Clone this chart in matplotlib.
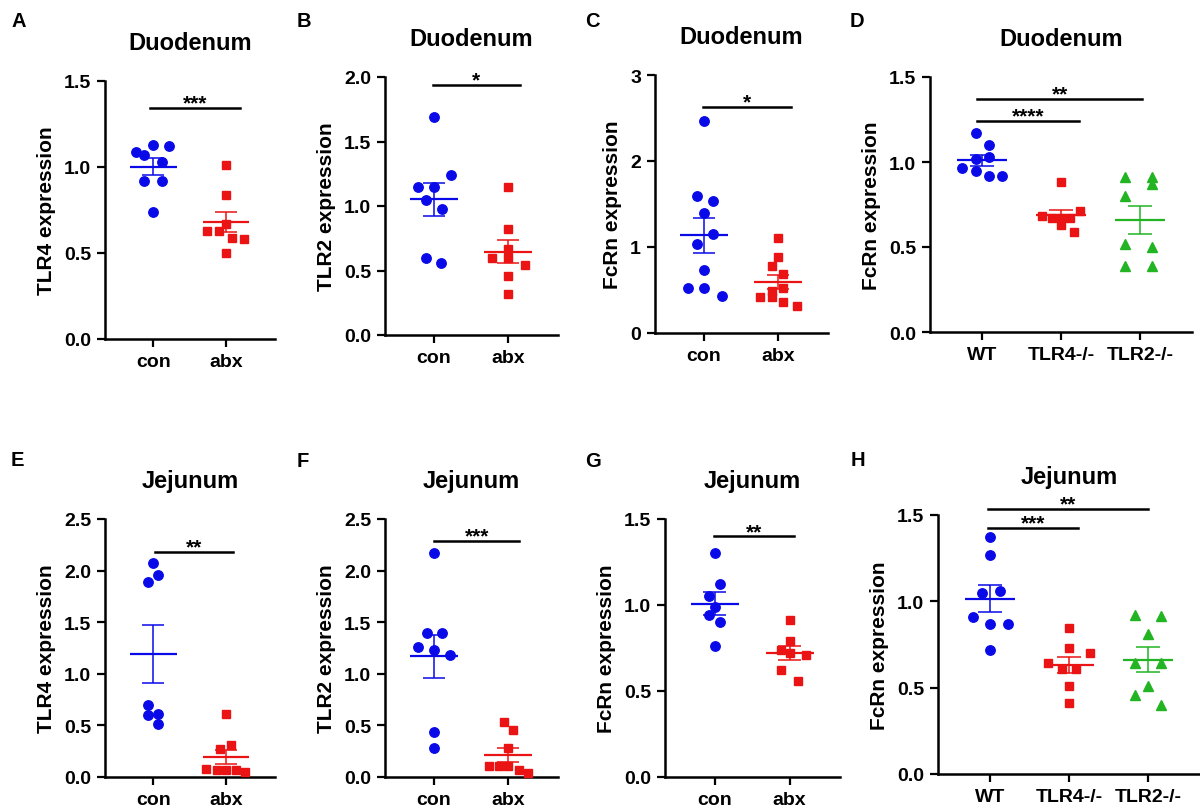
import matplotlib.pyplot as plt
import numpy as np

plt.rcParams['font.family'] = ['Liberation Sans', 'DejaVu Sans']
plt.rcParams['font.weight'] = 'bold'
plt.rcParams['axes.labelweight'] = 'bold'
plt.rcParams['axes.titleweight'] = 'bold'

# groups
two_groups = ['con', 'abx']
three_groups = ['WT', 'TLR4-/-', 'TLR2-/-']

# values
A_con = [1.09, 1.07, 1.13, 1.12, 1.03, 0.92, 0.92, 0.74]
A_abx = [1.01, 0.84, 0.67, 0.63, 0.63, 0.59, 0.58, 0.50]
B_con = [1.69, 1.24, 1.15, 1.15, 1.05, 0.98, 0.60, 0.56]
B_abx = [1.15, 0.82, 0.67, 0.60, 0.60, 0.54, 0.46, 0.32]
C_con = [2.47, 1.59, 1.53, 1.39, 1.15, 1.04, 0.73, 0.52, 0.52, 0.43]
C_abx = [1.10, 0.88, 0.78, 0.69, 0.52, 0.49, 0.42, 0.42, 0.36, 0.31]
D_wt = [1.17, 1.10, 1.03, 1.02, 0.965, 0.95, 0.92, 0.92]
D_tlr4 = [0.88, 0.71, 0.68, 0.67, 0.67, 0.67, 0.63, 0.59]
D_tlr2 = [0.91, 0.91, 0.87, 0.80, 0.52, 0.50, 0.39, 0.39]
E_con = [2.07, 1.96, 1.89, 0.70, 0.60, 0.61, 0.51]
E_abx = [0.61, 0.27, 0.31, 0.08, 0.07, 0.07, 0.07, 0.05]
F_con = [2.17, 1.40, 1.40, 1.26, 1.23, 1.18, 0.44, 0.28]
F_abx = [0.53, 0.46, 0.28, 0.11, 0.11, 0.11, 0.07, 0.04]
G_con = [1.30, 1.12, 1.05, 0.99, 0.94, 0.90, 0.76]
G_abx = [0.91, 0.79, 0.74, 0.72, 0.71, 0.62, 0.56]
H_wt = [1.37, 1.27, 1.05, 1.06, 0.91, 0.87, 0.87, 0.72]
H_tlr4 = [0.845, 0.73, 0.70, 0.64, 0.61, 0.61, 0.51, 0.41]
H_tlr2 = [0.92, 0.915, 0.81, 0.645, 0.645, 0.51, 0.46, 0.40]

# horizontal scatter of the points (fraction of group spacing)
A_con_dx = [-0.24, -0.12, 0, 0.22, 0.12, -0.12, 0.12, 0]
A_abx_dx = [0, 0, 0, -0.26, -0.1, 0.08, 0.24, 0]
B_con_dx = [0, 0.23, -0.21, 0, -0.11, 0.11, -0.11, 0.1]
B_abx_dx = [0, 0, 0, -0.22, 0, 0.23, 0, 0]
C_con_dx = [0, -0.1, 0.12, 0, 0.12, -0.1, 0, -0.21, 0, 0.24]
C_abx_dx = [0, 0, -0.09, 0.07, 0.07, -0.08, -0.08, -0.24, 0.07, 0.25]
D_wt_dx = [-0.08, 0.09, 0.09, -0.08, -0.25, -0.08, 0.09, 0.25]
D_tlr4_dx = [0, 0.24, -0.24, -0.12, 0, 0.12, 0, 0.17]
D_tlr2_dx = [-0.19, 0.15, 0.15, -0.19, -0.19, 0.15, -0.19, 0.15]
E_con_dx = [0, 0.07, -0.07, -0.07, -0.07, 0.07, 0.07]
E_abx_dx = [0, -0.09, 0.07, -0.27, -0.13, 0, 0.13, 0.26]
F_con_dx = [0, -0.1, 0.11, -0.22, 0, 0.22, 0, 0]
F_abx_dx = [-0.06, 0.07, 0, -0.26, -0.13, 0, 0.14, 0.26]
G_con_dx = [0, 0.07, -0.07, 0, -0.08, 0.07, 0]
G_abx_dx = [0, 0, -0.11, 0, 0.22, -0.11, 0.11]
H_wt_dx = [0, 0, -0.105, 0.12, -0.22, 0, 0.23, 0]
H_tlr4_dx = [0, 0, 0.26, -0.26, -0.085, 0.085, 0, 0]
H_tlr2_dx = [-0.17, 0.17, 0, -0.17, 0.17, 0, -0.17, 0.17]

blue = '#0a0ae8'
red = '#ea1414'
green = '#22b422'

W, H = 1200, 812
fig = plt.figure(figsize=(12, 8.12), dpi=100)


def panel(rect, groups, values, dxs, colors, markers, yticks, ylabels, ylabel,
          title, letter, letter_xy, sigs):
    x0, ytop, x1, ybot = rect
    ax = fig.add_axes([x0 / W, 1 - ybot / H, (x1 - x0) / W, (ybot - ytop) / H])
    for i, (v, dx, c, m) in enumerate(zip(values, dxs, colors, markers)):
        v = np.array(v)
        xs = i + np.array(dx)
        ms = {'o': 6.8, 's': 6.0, '^': 7.0}[m]
        ax.plot(xs, v, ls='none', marker=m, ms=ms, color=c, mec=c, clip_on=False, zorder=3)
        mean = v.mean()
        sem = v.std(ddof=1) / np.sqrt(len(v))
        ax.hlines(mean, i - 0.32, i + 0.32, color=c, lw=1.6, zorder=4)
        ax.vlines(i, mean - sem, mean + sem, color=c, lw=1.1, zorder=4)
        ax.hlines([mean - sem, mean + sem], i - 0.15, i + 0.15, color=c, lw=1.1, zorder=4)
    for xa, xb, y, lab in sigs:
        ax.plot([xa, xb], [y, y], color='black', lw=1.8, clip_on=False)
        ax.annotate(lab, ((xa + xb) / 2, y), xytext=(0, -0.5), textcoords='offset points',
                    ha='center', va='baseline', fontsize=15, annotation_clip=False)
    n = len(groups)
    ax.set_xlim(-0.66, n - 0.34 if n == 3 else 1.67)
    ax.set_ylim(yticks[0], yticks[-1])
    ax.set_xticks(range(n))
    ax.set_xticklabels(groups, fontsize=14, fontweight='bold')
    ax.set_yticks(yticks)
    ax.set_yticklabels(ylabels, fontsize=14, fontweight='bold')
    ax.set_ylabel(ylabel, fontsize=15, fontweight='bold', labelpad=6)
    ax.set_title(title, fontsize=17, fontweight='bold', pad=23)
    for s in ['top', 'right']:
        ax.spines[s].set_visible(False)
    for s in ['left', 'bottom']:
        ax.spines[s].set_linewidth(1.8)
    ax.tick_params(length=6, width=1.6, pad=4)
    fig.text(letter_xy[0] / W, 1 - letter_xy[1] / H, letter, fontsize=14.5,
             fontweight='bold', ha='left', va='top')
    return ax


t15 = [0, 0.5, 1.0, 1.5]
t15l = ['0.0', '0.5', '1.0', '1.5']
t20 = [0, 0.5, 1.0, 1.5, 2.0]
t20l = ['0.0', '0.5', '1.0', '1.5', '2.0']
t25 = [0, 0.5, 1.0, 1.5, 2.0, 2.5]
t25l = ['0.0', '0.5', '1.0', '1.5', '2.0', '2.5']
t3 = [0, 1, 2, 3]
t3l = ['0', '1', '2', '3']

two_c = [blue, red]
two_m = ['o', 's']
three_c = [blue, red, green]
three_m = ['o', 's', '^']

panel((105, 82, 275, 340), two_groups, [A_con, A_abx], [A_con_dx, A_abx_dx], two_c, two_m,
      t15, t15l, 'TLR4 expression', 'Duodenum', 'A', (11, 12), [(-0.04, 1.19, 1.345, '***')])
panel((385, 78, 558, 336), two_groups, [B_con, B_abx], [B_con_dx, B_abx_dx], two_c, two_m,
      t20, t20l, 'TLR2 expression', 'Duodenum', 'B', (297, 12), [(-0.02, 1.16, 1.94, '*')])
panel((655, 76, 828, 334), two_groups, [C_con, C_abx], [C_con_dx, C_abx_dx], two_c, two_m,
      t3, t3l, 'FcRn expression', 'Duodenum', 'C', (585, 12), [(-0.01, 1.17, 2.63, '*')])
panel((930, 78, 1192, 333), three_groups, [D_wt, D_tlr4, D_tlr2], [D_wt_dx, D_tlr4_dx, D_tlr2_dx],
      three_c, three_m, t15, t15l, 'FcRn expression', 'Duodenum', 'D', (850, 12),
      [(-0.06, 2.03, 1.372, '**'), (-0.06, 1.23, 1.241, '****')])
panel((105, 520, 275, 778), two_groups, [E_con, E_abx], [E_con_dx, E_abx_dx], two_c, two_m,
      t25, t25l, 'TLR4 expression', 'Jejunum', 'E', (11, 451), [(0.03, 1.1, 2.184, '**')])
panel((385, 520, 558, 778), two_groups, [F_con, F_abx], [F_con_dx, F_abx_dx], two_c, two_m,
      t25, t25l, 'TLR2 expression', 'Jejunum', 'F', (297, 452), [(0.0, 1.15, 2.29, '***')])
panel((665, 520, 840, 778), two_groups, [G_con, G_abx], [G_con_dx, G_abx_dx], two_c, two_m,
      t15, t15l, 'FcRn expression', 'Jejunum', 'G', (585, 452), [(-0.01, 1.06, 1.40, '**')])
panel((938, 516, 1200, 775), three_groups, [H_wt, H_tlr4, H_tlr2], [H_wt_dx, H_tlr4_dx, H_tlr2_dx],
      three_c, three_m, t15, t15l, 'FcRn expression', 'Jejunum', 'H', (851, 451),
      [(-0.03, 2.0, 1.535, '**'), (-0.03, 1.12, 1.425, '***')])

fig.savefig('out.png', dpi=100)
